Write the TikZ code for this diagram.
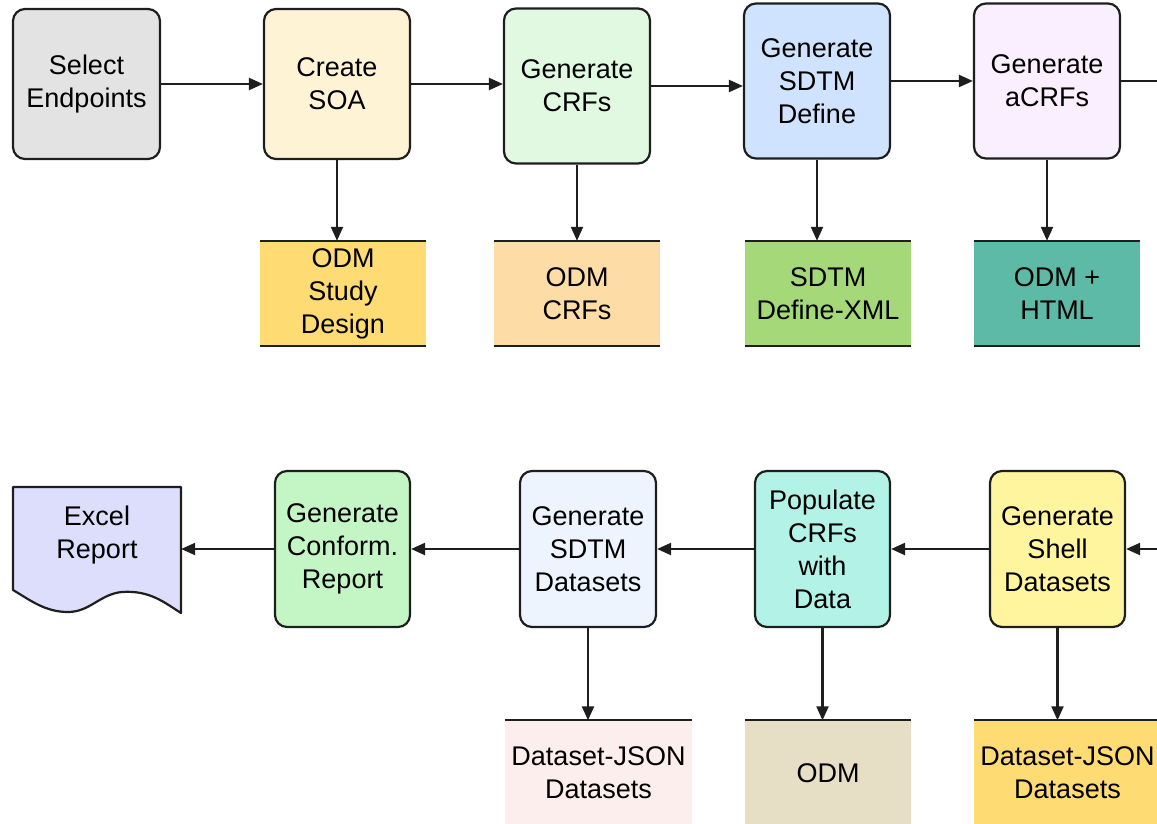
\documentclass[tikz,border=0pt]{standalone}
\usepackage{fontspec}
\setmainfont{Liberation Sans}
\usetikzlibrary{arrows.meta}

\definecolor{selgray}{HTML}{E3E3E3}
\definecolor{soafill}{HTML}{FFF3D6}
\definecolor{crffill}{HTML}{E2F9E1}
\definecolor{deffill}{HTML}{CFE2FE}
\definecolor{acrffill}{HTML}{F9EFFE}
\definecolor{golddata}{HTML}{FEDB73}
\definecolor{peachdata}{HTML}{FEDCA5}
\definecolor{greendata}{HTML}{A4D878}
\definecolor{tealdata}{HTML}{5DBAA7}
\definecolor{excelfill}{HTML}{DDDDFC}
\definecolor{conffill}{HTML}{C3F5C5}
\definecolor{dsfill}{HTML}{EDF4FE}
\definecolor{popfill}{HTML}{B3F2E7}
\definecolor{shellfill}{HTML}{FFF59F}
\definecolor{pinkdata}{HTML}{FDEEEE}
\definecolor{beigedata}{HTML}{E6DFC5}
\definecolor{edge}{HTML}{1E1E1E}

\begin{document}
\begin{tikzpicture}[
  x=1pt, y=-1pt,
  font=\fontsize{27}{33}\selectfont,
  stepbox/.style={draw=edge, line width=2.2pt, rounded corners=12pt, align=center, inner sep=2pt, minimum width=146pt, minimum height=155pt},
  databox/.style={align=center, inner sep=2pt, minimum width=166pt, minimum height=105pt},
  arr/.style={-{Triangle[length=14pt,width=12pt]}, line width=2.2pt, edge},
]
\clip (0,0) rectangle (1157,824);

% --- top row: steps ---------------------------------------------------------
\node[stepbox, fill=selgray, minimum width=147pt, minimum height=150pt] (sel) at (86.5,84) {Select\\Endpoints};
\node[stepbox, fill=soafill, minimum height=150pt] (soa) at (337,84) {Create\\SOA};
\node[stepbox, fill=crffill] (crfs) at (577,86) {Generate\\CRFs};
\node[stepbox, fill=deffill] (define) at (817,81) {Generate\\SDTM\\Define};
\node[stepbox, fill=acrffill] (acrf) at (1047,81) {Generate\\aCRFs};
\coordinate (outR) at (1165,81);

% --- top row: outputs -------------------------------------------------------
\node[databox, fill=golddata] (odmsd) at (343,293.5) {ODM\\Study\\Design};
\node[databox, fill=peachdata] (odmcrf) at (577,293.5) {ODM\\CRFs};
\node[databox, fill=greendata] (sdtmxml) at (828,293.5) {SDTM\\Define-XML};
\node[databox, fill=tealdata] (odmhtml) at (1057,293.5) {ODM +\\HTML};

% --- bottom row: steps ------------------------------------------------------
\coordinate (inR) at (1165,549);
\node[stepbox, fill=shellfill, minimum width=135pt, minimum height=156pt] (shell) at (1057.5,549) {Generate\\Shell\\Datasets};
\node[stepbox, fill=popfill, minimum width=135pt, minimum height=156pt] (populate) at (822.5,549) {Populate\\CRFs\\with\\Data};
\node[stepbox, fill=dsfill, minimum width=136pt, minimum height=156pt] (sdtmds) at (588,549) {Generate\\SDTM\\Datasets};
\node[stepbox, fill=conffill, minimum width=135pt, minimum height=156pt] (conform) at (342.5,549) {Generate\\Conform.\\Report};

% --- excel report, document shape -------------------------------------------
\fill[excelfill] (13,487) -- (181,487) -- (181,613)
  .. controls (165,603) and (150,590) .. (122,592)
  .. controls (100,594) and (90,612) .. (68,612)
  .. controls (45,612) and (30,600) .. (13,590) -- cycle;
\draw[edge, line width=2.2pt, line join=round] (13,487) -- (181,487) -- (181,613)
  .. controls (165,603) and (150,590) .. (122,592)
  .. controls (100,594) and (90,612) .. (68,612)
  .. controls (45,612) and (30,600) .. (13,590) -- cycle;
\node[align=center, minimum width=168pt, minimum height=100pt, inner sep=0pt] (excel) at (97,535) {Excel\\Report};

% --- bottom row: outputs ----------------------------------------------------
\node[databox, fill=pinkdata, minimum width=187pt] (djson) at (598.5,773) {Dataset-JSON\\Datasets};
\node[databox, fill=beigedata] (odm) at (828,773) {ODM};
\node[databox, fill=golddata, minimum width=187pt] (djson2) at (1067.5,773) {Dataset-JSON\\Datasets};

\foreach \n in {odmsd,odmcrf,sdtmxml,odmhtml,djson,odm,djson2}
  \draw[edge, line width=2.2pt] (\n.north west) -- (\n.north east) (\n.south west) -- (\n.south east);

% --- arrows -----------------------------------------------------------------
\draw[arr] (sel.east) -- (sel.east -| soa.west);
\draw[arr] (soa.east) -- (soa.east -| crfs.west);
\draw[arr] (crfs.east) -- (crfs.east -| define.west);
\draw[arr] (define.east) -- (define.east -| acrf.west);
\draw[edge, line width=2.2pt] (acrf.east) -- (outR);
\draw[arr] (soa.south) -- (soa.south |- odmsd.north);
\draw[arr] (crfs.south) -- (crfs.south |- odmcrf.north);
\draw[arr] (define.south) -- (define.south |- sdtmxml.north);
\draw[arr] (acrf.south) -- (acrf.south |- odmhtml.north);

\draw[arr] (inR) -- (shell.east);
\draw[arr] (shell.west) -- (populate.east);
\draw[arr] (populate.west) -- (sdtmds.east);
\draw[arr] (sdtmds.west) -- (conform.east);
\draw[arr] (conform.west) -- (conform.west -| excel.east);
\draw[arr] (sdtmds.south) -- (sdtmds.south |- djson.north);
\draw[arr] (populate.south) -- (populate.south |- odm.north);
\draw[arr] (shell.south) -- (shell.south |- djson2.north);
\end{tikzpicture}
\end{document}
